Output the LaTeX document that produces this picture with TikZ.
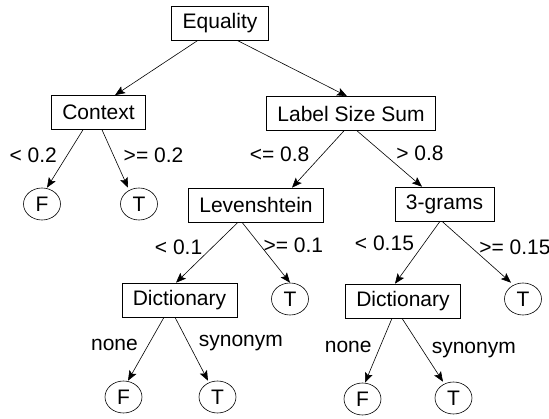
\documentclass[tikz,border=0pt]{standalone}
\usepackage{fontspec}
\setmainfont{Liberation Sans}
\usepackage{tikz}
\usetikzlibrary{arrows.meta,shapes.geometric}

\begin{document}
\begin{tikzpicture}[x=1pt,y=-1pt,->,>={Stealth[length=10pt,width=8pt,inset=2pt]},
                    semithick,font=\fontsize{21}{25}\selectfont]
  \tikzset{test/.style={draw,rectangle,minimum height=34pt,inner xsep=11pt,inner ysep=2pt},
           leaf/.style={draw,ellipse,minimum width=37pt,minimum height=32pt,inner sep=0pt},
           lbl/.style={draw=none,inner xsep=10pt,inner ysep=1pt}}
  \useasboundingbox (0,0) rectangle (549,419);

  \node[test] (eq)    at (220,23)    {Equality};
  \node[test] (ctx)   at (98.5,112.5) {Context};
  \node[test] (lss)   at (351,113.5) {Label Size Sum};
  \node[leaf] (F1)    at (42,204)    {F};
  \node[leaf] (T1)    at (139,204)   {T};
  \node[test] (lev)   at (256,205)   {Levenshtein};
  \node[test] (tg)    at (444.5,204) {3-grams};
  \node[test] (dict1) at (179.5,300) {Dictionary};
  \node[leaf] (T2)    at (290,299)   {T};
  \node[test] (dict2) at (403,301)   {Dictionary};
  \node[leaf] (T3)    at (523,299)   {T};
  \node[leaf] (F2)    at (123.5,397) {F};
  \node[leaf] (T4)    at (217.5,397) {T};
  \node[leaf] (F3)    at (362.5,399) {F};
  \node[leaf] (T5)    at (453.5,398) {T};

  \draw ([xshift=-22pt]eq.south) -- ([xshift=16.5pt]ctx.north);
  \draw ([xshift=17pt]eq.south)  -- ([xshift=-4pt]lss.north);

  \draw ([xshift=-15.5pt]ctx.south) -- node[lbl,left,pos=.44] {< 0.2} ([xshift=5pt]F1.north);
  \draw ([xshift=3.5pt]ctx.south)   -- node[lbl,right,pos=.44] {>= 0.2} ([xshift=-11pt]T1.north);

  \draw ([xshift=-7pt]lss.south) -- node[lbl,left,pos=.41,xshift=-3pt] {<= 0.8} ([xshift=36pt]lev.north);
  \draw ([xshift=6pt]lss.south)  -- node[lbl,right,pos=.40,xshift=3pt] {> 0.8} ([xshift=-22.5pt]tg.north);

  \draw ([xshift=-18pt]lev.south) -- node[lbl,left,pos=.41] {< 0.1} ([xshift=-3.5pt]dict1.north);
  \draw ([xshift=-14pt]lev.south) -- node[lbl,right,pos=.38,xshift=-7pt] {>= 0.1} (T2.north);

  \draw ([xshift=-4.5pt]tg.south) -- node[lbl,left,pos=.35] {< 0.15} ([xshift=-8pt]dict2.north);
  \draw ([xshift=-2.5pt]tg.south) -- node[lbl,right,pos=.42,xshift=-2pt] {>= 0.15} ([xshift=-12pt]T3.north);

  \draw ([xshift=-15.5pt]dict1.south) -- node[lbl,left,pos=.44] {none} ([xshift=4.5pt]F2.north);
  \draw ([xshift=-4.5pt]dict1.south)  -- node[lbl,right,pos=.41] {synonym} ([xshift=-9.5pt]T4.north);

  \draw ([xshift=-11pt]dict2.south) -- node[lbl,left,pos=.45,xshift=2pt] {none} ([xshift=2.5pt]F3.north);
  \draw ([xshift=-1pt]dict2.south)  -- node[lbl,right,pos=.5,xshift=-1pt] {synonym} ([xshift=-10.5pt]T5.north);
\end{tikzpicture}
\end{document}
